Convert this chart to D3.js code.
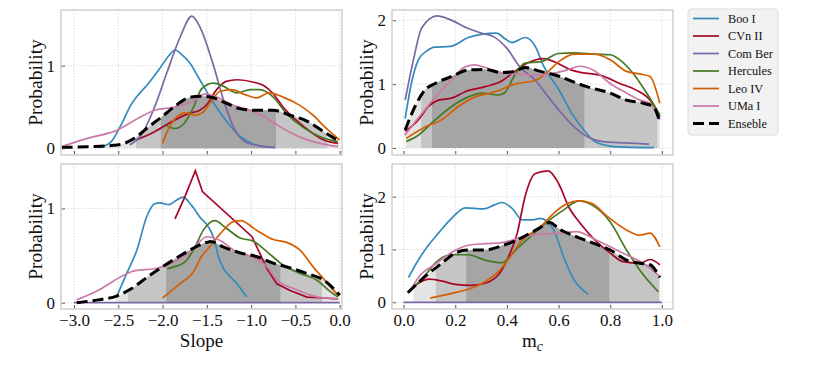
<!DOCTYPE html>
<html>
<head>
<meta charset="utf-8">
<script src="https://cdn.jsdelivr.net/npm/d3@7"></script>
<style>
  body { margin: 0; background: #fff; }
  text { font-family: "Liberation Serif", "Times New Roman", serif; }
</style>
</head>
<body>
<svg id="chart" width="818" height="375"></svg>
<script>
const seriesNames = ["Boo I", "CVn II", "Com Ber", "Hercules", "Leo IV", "UMa I", "Enseble"];
const seriesColors = ["#348ABD", "#A60628", "#7A68A6", "#467821", "#D55E00", "#CC79A7", "#000000"];
const slopeTicks = [-3.0, -2.5, -2.0, -1.5, -1.0, -0.5, 0.0];
const mcTicks = [0.0, 0.2, 0.4, 0.6, 0.8, 1.0];

// slope, upper panel
const slopeTop = {
  "Boo I": [[-2.71,0.01],[-2.58,0.08],[-2.47,0.28],[-2.36,0.52],[-2.28,0.64],[-2.18,0.76],[-2.03,0.97],[-1.93,1.12],[-1.86,1.19],[-1.78,1.13],[-1.69,1.03],[-1.58,0.83],[-1.43,0.56],[-1.28,0.33],[-1.13,0.15],[-0.97,0.05],[-0.85,0.02],[-0.73,0.01]],
  "CVn II": [[-2.30,0.10],[-2.09,0.20],[-1.90,0.32],[-1.71,0.42],[-1.58,0.46],[-1.50,0.53],[-1.39,0.71],[-1.28,0.81],[-1.16,0.83],[-0.97,0.80],[-0.86,0.76],[-0.75,0.66],[-0.64,0.50],[-0.49,0.34],[-0.33,0.20],[-0.18,0.10],[-0.02,0.06]],
  "Com Ber": [[-2.37,0.04],[-2.24,0.16],[-2.09,0.50],[-1.95,0.92],[-1.80,1.35],[-1.67,1.60],[-1.57,1.45],[-1.43,1.02],[-1.31,0.58],[-1.20,0.26],[-1.07,0.08],[-0.90,0.03],[-0.73,0.01]],
  "Hercules": [[-1.96,0.28],[-1.86,0.24],[-1.75,0.31],[-1.65,0.50],[-1.56,0.72],[-1.43,0.79],[-1.31,0.75],[-1.16,0.67],[-1.01,0.71],[-0.90,0.71],[-0.75,0.62],[-0.60,0.42],[-0.41,0.25],[-0.22,0.14],[-0.02,0.08]],
  "Leo IV": [[-2.00,0.06],[-1.94,0.22],[-1.84,0.38],[-1.74,0.43],[-1.64,0.40],[-1.55,0.43],[-1.45,0.57],[-1.35,0.69],[-1.22,0.71],[-1.07,0.65],[-0.94,0.61],[-0.80,0.67],[-0.64,0.62],[-0.45,0.52],[-0.30,0.40],[-0.15,0.24],[0.0,0.10]],
  "UMa I": [[-3.14,0.02],[-2.85,0.12],[-2.51,0.22],[-2.28,0.36],[-2.09,0.46],[-1.86,0.50],[-1.64,0.58],[-1.52,0.66],[-1.39,0.62],[-1.20,0.52],[-1.01,0.46],[-0.82,0.36],[-0.64,0.24],[-0.41,0.12],[-0.22,0.06],[-0.02,0.02]],
  "Enseble": [[-3.14,0.01],[-2.85,0.02],[-2.51,0.04],[-2.32,0.12],[-2.17,0.25],[-2.01,0.38],[-1.86,0.51],[-1.71,0.61],[-1.58,0.63],[-1.46,0.62],[-1.31,0.56],[-1.13,0.48],[-0.94,0.46],[-0.75,0.46],[-0.56,0.40],[-0.37,0.33],[-0.18,0.20],[0.0,0.08]]
};
const slopeTopBands = [[-2.72, 0.0], [-2.30, -0.14], [-2.02, -0.72]];

// m_c, upper panel
const mcTop = {
  "Boo I": [[0.006,0.46],[0.03,1.01],[0.057,1.38],[0.09,1.52],[0.12,1.58],[0.18,1.59],[0.25,1.73],[0.30,1.78],[0.36,1.80],[0.39,1.72],[0.42,1.65],[0.47,1.73],[0.51,1.59],[0.54,1.30],[0.60,0.92],[0.65,0.55],[0.70,0.27],[0.74,0.10],[0.80,0.03],[0.88,0.01],[0.97,0.005]],
  "CVn II": [[0.006,0.26],[0.057,0.44],[0.096,0.65],[0.135,0.75],[0.186,0.78],[0.238,0.88],[0.315,0.96],[0.38,1.05],[0.43,1.20],[0.48,1.33],[0.54,1.40],[0.60,1.32],[0.65,1.22],[0.69,1.18],[0.76,1.14],[0.837,1.01],[0.899,0.91],[0.954,0.75],[0.992,0.49]],
  "Com Ber": [[0.006,0.75],[0.038,1.38],[0.07,1.88],[0.13,2.07],[0.18,2.01],[0.25,1.87],[0.30,1.80],[0.35,1.74],[0.40,1.56],[0.45,1.27],[0.51,1.06],[0.56,0.80],[0.61,0.55],[0.66,0.33],[0.71,0.18],[0.77,0.10],[0.86,0.08],[0.95,0.06]],
  "Hercules": [[0.010,0.10],[0.057,0.20],[0.122,0.44],[0.186,0.65],[0.25,0.80],[0.303,0.86],[0.367,0.83],[0.39,0.86],[0.43,1.14],[0.47,1.33],[0.53,1.35],[0.60,1.48],[0.66,1.49],[0.74,1.47],[0.80,1.46],[0.837,1.38],[0.888,1.17],[0.941,0.86],[0.992,0.52]],
  "Leo IV": [[0.010,0.15],[0.083,0.33],[0.147,0.44],[0.212,0.65],[0.277,0.80],[0.354,0.88],[0.43,1.00],[0.51,1.06],[0.56,1.20],[0.61,1.38],[0.66,1.47],[0.74,1.47],[0.80,1.38],[0.863,1.20],[0.915,1.16],[0.954,1.12],[0.992,0.70]],
  "UMa I": [[0.004,0.20],[0.057,0.47],[0.109,0.73],[0.186,1.07],[0.238,1.27],[0.277,1.30],[0.315,1.26],[0.38,1.18],[0.44,1.16],[0.51,1.14],[0.57,1.16],[0.63,1.22],[0.683,1.28],[0.734,1.22],[0.80,1.01],[0.863,0.86],[0.915,0.75],[0.954,0.70],[0.992,0.44]],
  "Enseble": [[0.006,0.28],[0.044,0.65],[0.083,0.91],[0.122,1.01],[0.186,1.12],[0.25,1.22],[0.315,1.23],[0.38,1.18],[0.43,1.20],[0.47,1.26],[0.53,1.20],[0.605,1.12],[0.66,1.03],[0.709,0.96],[0.80,0.86],[0.863,0.75],[0.928,0.70],[0.966,0.65],[0.992,0.41]]
};
const mcTopBands = [[0.008, 1.0], [0.068, 0.983], [0.11, 0.70]];

// slope, lower panel
const slopeBottom = {
  "Boo I": [[-2.52,0.06],[-2.41,0.30],[-2.29,0.56],[-2.18,0.91],[-2.09,1.05],[-2.03,1.06],[-1.93,1.04],[-1.84,1.09],[-1.77,1.12],[-1.67,1.03],[-1.58,0.91],[-1.48,0.80],[-1.42,0.68],[-1.37,0.49],[-1.31,0.36],[-1.23,0.27],[-1.16,0.20],[-1.05,0.06]],
  "CVn II": [[-1.86,0.89],[-1.75,1.12],[-1.63,1.40],[-1.55,1.18],[-0.99,0.70],[-0.82,0.36],[-0.71,0.20],[-0.56,0.13],[-0.37,0.06],[-0.18,0.05],[-0.02,0.04]],
  "Com Ber": [[-3.0,0.0],[0.0,0.0]],
  "Hercules": [[-1.95,0.36],[-1.87,0.38],[-1.75,0.43],[-1.65,0.56],[-1.54,0.77],[-1.41,0.87],[-1.28,0.79],[-1.13,0.69],[-0.97,0.65],[-0.82,0.54],[-0.64,0.40],[-0.45,0.31],[-0.26,0.24],[-0.11,0.12],[-0.02,0.06]],
  "Leo IV": [[-2.00,0.05],[-1.82,0.19],[-1.65,0.33],[-1.56,0.49],[-1.48,0.58],[-1.35,0.73],[-1.20,0.86],[-1.12,0.87],[-0.94,0.77],[-0.75,0.67],[-0.60,0.64],[-0.45,0.56],[-0.30,0.38],[-0.15,0.22],[-0.02,0.08]],
  "UMa I": [[-2.97,0.03],[-2.73,0.13],[-2.46,0.28],[-2.31,0.34],[-2.09,0.36],[-1.90,0.42],[-1.71,0.52],[-1.60,0.63],[-1.50,0.70],[-1.35,0.66],[-1.20,0.56],[-1.01,0.49],[-0.82,0.38],[-0.71,0.24],[-0.52,0.15],[-0.33,0.08],[-0.18,0.05],[-0.02,0.04]],
  "Enseble": [[-2.97,0.0],[-2.73,0.03],[-2.52,0.07],[-2.35,0.15],[-2.16,0.28],[-1.97,0.40],[-1.78,0.51],[-1.63,0.59],[-1.50,0.64],[-1.46,0.65],[-1.31,0.59],[-1.13,0.53],[-0.94,0.49],[-0.75,0.42],[-0.56,0.37],[-0.37,0.31],[-0.18,0.24],[0.0,0.08]]
};
const slopeBottomBands = [[-2.53, 0.0], [-2.39, -0.20], [-1.96, -0.67]];

// m_c, lower panel
const mcBottom = {
  "Boo I": [[0.019,0.47],[0.057,0.80],[0.096,1.08],[0.135,1.31],[0.18,1.56],[0.24,1.79],[0.31,1.77],[0.35,1.84],[0.38,1.89],[0.42,1.78],[0.46,1.56],[0.50,1.56],[0.53,1.59],[0.58,1.38],[0.62,0.85],[0.66,0.42],[0.69,0.25],[0.715,0.15]],
  "CVn II": [[0.019,0.20],[0.057,0.36],[0.10,0.44],[0.15,0.40],[0.20,0.34],[0.26,0.32],[0.315,0.36],[0.367,0.52],[0.40,0.80],[0.44,1.31],[0.47,2.00],[0.51,2.44],[0.56,2.49],[0.60,2.25],[0.64,1.80],[0.683,1.50],[0.734,1.21],[0.80,0.93],[0.85,0.77],[0.915,0.74],[0.954,0.81],[0.992,0.71]],
  "Com Ber": [[0.0,0.0],[1.0,0.0]],
  "Hercules": [[0.02,0.20],[0.09,0.55],[0.122,0.74],[0.186,0.90],[0.25,0.90],[0.315,0.80],[0.38,0.75],[0.44,1.02],[0.49,1.24],[0.55,1.50],[0.62,1.75],[0.68,1.92],[0.73,1.84],[0.80,1.52],[0.863,0.99],[0.928,0.52],[0.986,0.20]],
  "Leo IV": [[0.103,0.08],[0.186,0.17],[0.264,0.27],[0.315,0.39],[0.367,0.58],[0.40,0.78],[0.46,1.18],[0.53,1.43],[0.58,1.68],[0.63,1.86],[0.68,1.92],[0.73,1.87],[0.79,1.62],[0.863,1.37],[0.915,1.27],[0.954,1.31],[0.992,1.05]],
  "UMa I": [[0.023,0.20],[0.06,0.49],[0.122,0.72],[0.199,0.98],[0.25,1.08],[0.315,1.11],[0.38,1.13],[0.45,1.22],[0.53,1.29],[0.605,1.31],[0.67,1.34],[0.734,1.21],[0.80,1.05],[0.863,0.90],[0.928,0.74],[0.992,0.49]],
  "Enseble": [[0.016,0.18],[0.083,0.49],[0.148,0.74],[0.199,0.93],[0.25,0.99],[0.315,0.99],[0.38,1.07],[0.46,1.23],[0.53,1.42],[0.565,1.51],[0.605,1.38],[0.67,1.24],[0.734,1.12],[0.80,0.99],[0.863,0.80],[0.915,0.74],[0.954,0.71],[0.992,0.47]]
};
const mcBottomBands = [[0.038, 1.0], [0.125, 0.99], [0.242, 0.796]];

const svg = d3.select("#chart");
const pw = 281, ph = 145;
const bandColors = ["#e4e4e4", "#c5c5c5", "#a5a5a5"];

const panels = [
  { name: "tl", data: slopeTop, bands: slopeTopBands, left: 61, top: 10,
    xDomain: [-3.147, 0.026], yDomain: [-0.081, 1.674], xTicks: slopeTicks, yTicks: [0, 1], xLabels: false },
  { name: "tr", data: mcTop, bands: mcTopBands, left: 392, top: 10,
    xDomain: [-0.045, 1.043], yDomain: [-0.110, 2.161], xTicks: mcTicks, yTicks: [0, 1, 2], xLabels: false },
  { name: "bl", data: slopeBottom, bands: slopeBottomBands, left: 61, top: 164,
    xDomain: [-3.147, 0.026], yDomain: [-0.067, 1.472], xTicks: slopeTicks, yTicks: [0, 1], xLabels: true, straight: "CVn II" },
  { name: "br", data: mcBottom, bands: mcBottomBands, left: 392, top: 164,
    xDomain: [-0.045, 1.043], yDomain: [-0.127, 2.619], xTicks: mcTicks, yTicks: [0, 1, 2], xLabels: true }
];

panels.forEach(function(p) {
  const g = svg.append("g").attr("transform", "translate(" + p.left + "," + p.top + ")");
  const x = d3.scaleLinear().domain(p.xDomain).range([0, pw]);
  const y = d3.scaleLinear().domain(p.yDomain).range([ph, 0]);

  // grid
  g.append("g").selectAll("line").data(p.xTicks).join("line")
    .attr("x1", d => x(d)).attr("x2", d => x(d)).attr("y1", 0).attr("y2", ph)
    .attr("stroke", "#c4c4c4").attr("stroke-width", 0.6).attr("stroke-dasharray", "1.5,1.5");
  g.append("g").selectAll("line").data(p.yTicks).join("line")
    .attr("x1", 0).attr("x2", pw).attr("y1", d => y(d)).attr("y2", d => y(d))
    .attr("stroke", "#c4c4c4").attr("stroke-width", 0.6).attr("stroke-dasharray", "1.5,1.5");

  // shaded credible intervals under the ensemble curve
  const area = d3.area()
    .x(d => x(d[0])).y0(y(0)).y1(d => y(d[1]))
    .curve(d3.curveMonotoneX);
  p.bands.forEach(function(b, i) {
    const id = "clip-" + p.name + "-" + i;
    g.append("clipPath").attr("id", id).append("rect")
      .attr("x", x(b[0])).attr("width", x(b[1]) - x(b[0]))
      .attr("y", 0).attr("height", ph);
    g.append("path").datum(p.data["Enseble"])
      .attr("d", area).attr("fill", bandColors[i])
      .attr("clip-path", "url(#" + id + ")");
  });

  // density lines
  seriesNames.forEach(function(name, i) {
    const line = d3.line()
      .x(d => x(d[0])).y(d => y(d[1]))
      .curve(p.straight === name ? d3.curveLinear : d3.curveMonotoneX);
    const path = g.append("path").datum(p.data[name])
      .attr("d", line).attr("fill", "none")
      .attr("stroke", seriesColors[i]);
    if (name === "Enseble") {
      path.attr("stroke-width", 3).attr("stroke-dasharray", "11,5");
    } else {
      path.attr("stroke-width", 1.7);
    }
  });

  // axes with inward ticks
  const xAxis = d3.axisBottom(x).tickValues(p.xTicks).tickSize(-4).tickPadding(5)
    .tickFormat(p.xLabels ? d3.format(".1f") : () => "");
  const xg = g.append("g").attr("transform", "translate(0," + ph + ")").call(xAxis);
  const yAxis = d3.axisLeft(y).tickValues(p.yTicks).tickSize(-4).tickPadding(6)
    .tickFormat(d3.format("d"));
  const yg = g.append("g").call(yAxis);
  [xg, yg].forEach(function(a) {
    a.select(".domain").remove();
    a.selectAll(".tick line").attr("stroke", "#333").attr("stroke-width", 0.8);
    a.selectAll(".tick text").attr("font-size", 17).attr("fill", "#111")
      .attr("font-family", "Liberation Serif, serif");
  });

  // frame
  g.append("rect").attr("x", 0).attr("y", 0).attr("width", pw).attr("height", ph)
    .attr("fill", "none").attr("stroke", "#d2d2d2").attr("stroke-width", 1.6);

  // y label
  g.append("text")
    .attr("transform", "translate(-26," + (ph / 2) + ") rotate(-90)")
    .attr("text-anchor", "middle").attr("dominant-baseline", "central")
    .attr("font-size", 19.5).attr("fill", "#111")
    .text("Probability");
});

// x labels
svg.append("text").attr("x", 61 + pw / 2).attr("y", 347)
  .attr("text-anchor", "middle").attr("font-size", 19).attr("fill", "#111")
  .text("Slope");
const mcLabel = svg.append("text").attr("x", 392 + pw / 2).attr("y", 347)
  .attr("text-anchor", "middle").attr("font-size", 19).attr("fill", "#111");
mcLabel.append("tspan").text("m");
mcLabel.append("tspan").attr("font-style", "italic").attr("font-size", 14).attr("dy", 4).text("c");

// legend
const legend = svg.append("g").attr("transform", "translate(688,9)");
legend.append("rect").attr("width", 90).attr("height", 126).attr("rx", 3)
  .attr("fill", "#f2f2f2").attr("stroke", "#dedede").attr("stroke-width", 1);
seriesNames.forEach(function(name, i) {
  const ly = 9.5 + i * 17.5;
  const ln = legend.append("line").attr("x1", 5).attr("x2", 31).attr("y1", ly).attr("y2", ly)
    .attr("stroke", seriesColors[i]);
  if (name === "Enseble") ln.attr("stroke-width", 3).attr("stroke-dasharray", "11,5");
  else ln.attr("stroke-width", 1.7);
  legend.append("text").attr("x", 40).attr("y", ly).attr("dominant-baseline", "central")
    .attr("font-size", 12.3).attr("fill", "#111").text(name);
});
</script>
</body>
</html>
